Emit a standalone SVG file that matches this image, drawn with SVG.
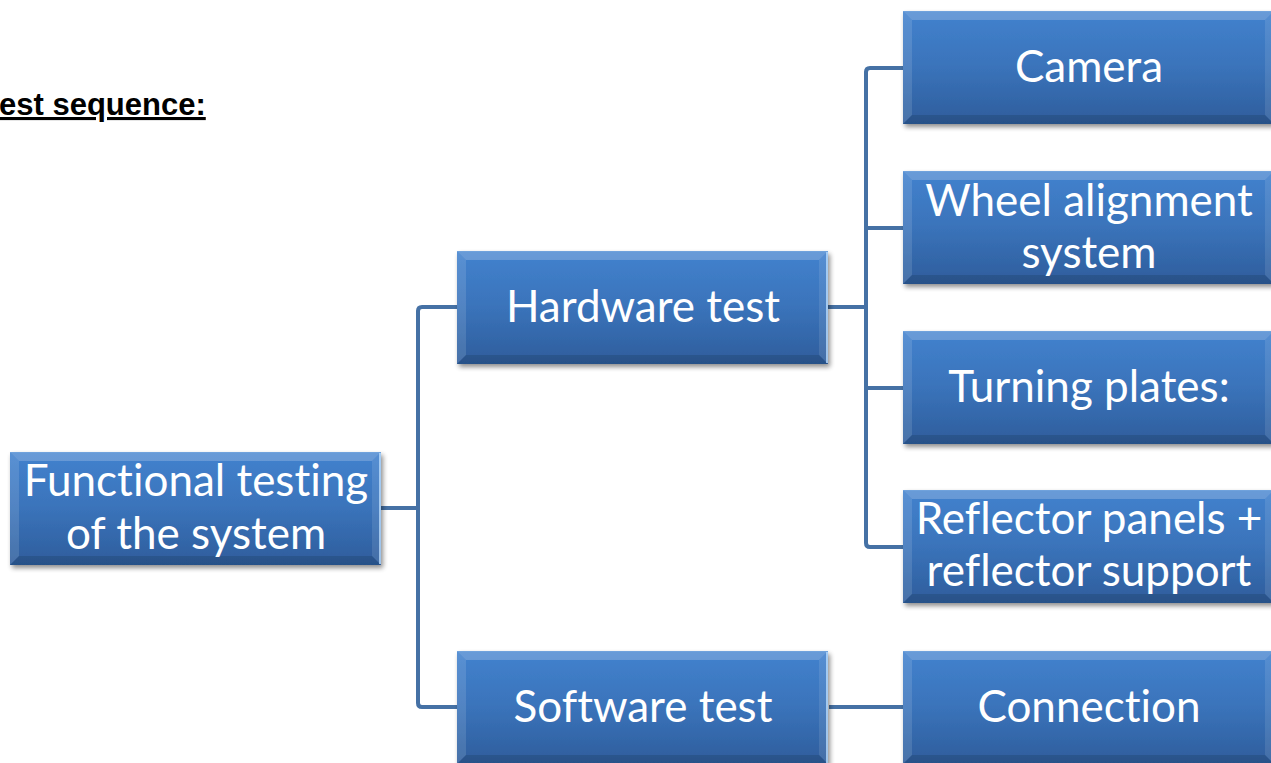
<svg xmlns="http://www.w3.org/2000/svg" xmlns:xlink="http://www.w3.org/1999/xlink" width="1271" height="763" viewBox="0 0 1271 763">
<style>
.lbl{font-family:Lato,"Open Sans","Noto Sans",sans-serif;font-size:44px;fill:#ffffff;text-anchor:middle;font-variant-ligatures:none}
.conn{fill:none;stroke:#4571A5;stroke-width:4;stroke-linejoin:round}
.title{font-family:"Liberation Sans",Arial,sans-serif;font-weight:bold;font-size:31px;fill:#000;text-decoration:underline}
</style>
<defs>
<linearGradient id="fillG" x1="0" y1="0" x2="0" y2="1">
<stop offset="0" stop-color="#4282CE"/>
<stop offset="0.5" stop-color="#3A73BA"/>
<stop offset="1" stop-color="#2E5D9C"/>
</linearGradient>
<filter id="sh" x="-5%" y="-10%" width="115%" height="130%">
<feGaussianBlur in="SourceAlpha" stdDeviation="2.5"/>
<feOffset dx="2" dy="3" result="b"/>
<feComponentTransfer><feFuncA type="linear" slope="0.45"/></feComponentTransfer>
<feMerge><feMergeNode/><feMergeNode in="SourceGraphic"/></feMerge>
</filter>
<g id="box">
<rect x="0" y="0" width="371" height="113" fill="url(#fillG)"/>
<polygon points="0,0 371,0 362,9 9,9" fill="#ffffff" fill-opacity="0.2"/>
<polygon points="0,0 9,9 9,104 0,113" fill="#ffffff" fill-opacity="0.12"/>
<polygon points="371,0 371,113 362,104 362,9" fill="#ffffff" fill-opacity="0.1"/>
<polygon points="0,113 9,104 362,104 371,113" fill="#000000" fill-opacity="0.12"/>
<line x1="370" y1="1" x2="370" y2="112" stroke="#BFE0FF" stroke-width="1.5"/>
<line x1="0" y1="0.5" x2="371" y2="0.5" stroke="#6FA2DC" stroke-width="1"/>
</g>
</defs>
<rect width="1271" height="763" fill="#ffffff"/>
<text class="title" x="-1" y="115">est sequence:</text>
<g id="connectors">
<path class="conn" d="M381 508 H418"/>
<path class="conn" d="M457 307 H422 Q418 307 418 311 V703 Q418 707 422 707 H457"/>
<path class="conn" d="M828 307 H866"/>
<path class="conn" d="M903 68 H870 Q866 68 866 72 V543 Q866 547 870 547 H903"/>
<path class="conn" d="M866 228 H903"/>
<path class="conn" d="M866 388 H903"/>
<path class="conn" d="M829 707 H903"/>
</g>
<g id="node-root">
<use xlink:href="#box" href="#box" x="10" y="452" filter="url(#sh)"/>
<text class="lbl" x="196" y="496">Functional testing</text>
<text class="lbl" x="196" y="549">of the system</text>
</g>
<g id="node-hardware">
<use xlink:href="#box" href="#box" x="457" y="251" filter="url(#sh)"/>
<text class="lbl" x="643" y="322">Hardware test</text>
</g>
<g id="node-software">
<use xlink:href="#box" href="#box" x="457" y="651" filter="url(#sh)"/>
<text class="lbl" x="643" y="722">Software test</text>
</g>
<g id="node-camera">
<use xlink:href="#box" href="#box" x="903" y="11" filter="url(#sh)"/>
<text class="lbl" x="1089" y="82">Camera</text>
</g>
<g id="node-wheel">
<use xlink:href="#box" href="#box" x="903" y="171" filter="url(#sh)"/>
<text class="lbl" x="1089" y="216">Wheel alignment</text>
<text class="lbl" x="1089" y="268">system</text>
</g>
<g id="node-turning">
<use xlink:href="#box" href="#box" x="903" y="331" filter="url(#sh)"/>
<text class="lbl" x="1089" y="402">Turning plates:</text>
</g>
<g id="node-reflector">
<use xlink:href="#box" href="#box" x="903" y="490" filter="url(#sh)"/>
<text class="lbl" x="1089" y="534">Reflector panels +</text>
<text class="lbl" x="1089" y="586">reflector support</text>
</g>
<g id="node-connection">
<use xlink:href="#box" href="#box" x="903" y="651" filter="url(#sh)"/>
<text class="lbl" x="1089" y="722">Connection</text>
</g>
</svg>
